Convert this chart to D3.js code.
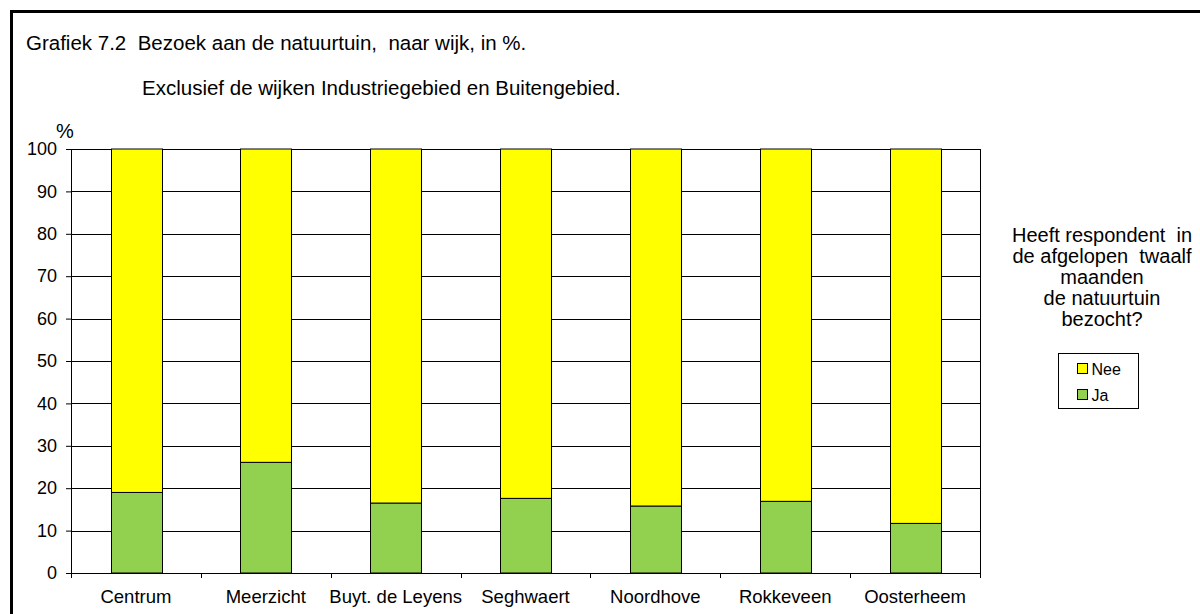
<!DOCTYPE html>
<html>
<head>
<meta charset="utf-8">
<style>
body { margin: 0; background: #fff; }
svg text { font-family: Arial, "Liberation Sans", sans-serif; fill: #000; white-space: pre; }
.axis .domain { stroke: #000; }
.axis line { stroke: #000; }
</style>
</head>
<body>
<svg id="chart" width="1200" height="614"></svg>
<script src="https://d3js.org/d3.v7.min.js"></script>
<script>

var wijken = ["Centrum", "Meerzicht", "Buyt. de Leyens", "Seghwaert", "Noordhove", "Rokkeveen", "Oosterheem"];
var ja = [19, 26.1, 16.5, 17.6, 15.8, 16.9, 11.7];
var nee = [81, 73.9, 83.5, 82.4, 84.2, 83.1, 88.3];
var yTicks = [0, 10, 20, 30, 40, 50, 60, 70, 80, 90, 100];
var series = [{key: "Ja", values: ja, color: "#92d050"}, {key: "Nee", values: nee, color: "#ffff00"}];

var svg = d3.select("#chart"),
    margin = {top: 149, left: 71, right: 220, bottom: 41},
    width = 1200 - margin.left - margin.right,
    height = 614 - margin.top - margin.bottom;

// outer frame
svg.append("path")
    .attr("d", "M11.5,1200 V11.5 H1200")
    .attr("fill", "none").attr("stroke", "#000").attr("stroke-width", 3);

svg.append("text").attr("x", 26).attr("y", 50).style("font-size", "20.5px")
    .text("Grafiek 7.2  Bezoek aan de natuurtuin,  naar wijk, in %.");
svg.append("text").attr("x", 142).attr("y", 95).style("font-size", "20.5px")
    .text("Exclusief de wijken Industriegebied en Buitengebied.");
svg.append("text").attr("x", 56).attr("y", 138).style("font-size", "20px").text("%");

var g = svg.append("g").attr("transform", "translate(" + margin.left + "," + margin.top + ")");

var x = d3.scaleBand().domain(wijken).range([0, width]).paddingInner(0.61).paddingOuter(0.305);
var xb = d3.scaleBand().domain(wijken).range([0, width]);
var y = d3.scaleLinear().domain([0, 100]).range([height, 0]);

// gridlines
g.append("g").selectAll("line").data(yTicks.slice(1)).enter().append("line")
    .attr("x1", 0).attr("x2", width)
    .attr("y1", function(d) { return Math.round(y(d)) + 0.5; })
    .attr("y2", function(d) { return Math.round(y(d)) + 0.5; })
    .attr("stroke", "#000").attr("stroke-width", 1);
g.append("line").attr("x1", width + 0.5).attr("x2", width + 0.5).attr("y1", 0).attr("y2", height)
    .attr("stroke", "#000");

// stacked bars
var stacked = wijken.map(function(w, i) {
  var base = 0;
  return series.map(function(s) {
    var d = {wijk: w, y0: base, y1: base + s.values[i], color: s.color};
    base += s.values[i];
    return d;
  });
});

g.append("g").selectAll("g").data(stacked).enter().append("g")
  .selectAll("rect").data(function(d) { return d; }).enter().append("rect")
    .attr("x", function(d) { return Math.round(x(d.wijk)) + 0.5; })
    .attr("width", Math.round(x.bandwidth()))
    .attr("y", function(d) { return y(d.y1); })
    .attr("height", function(d) { return y(d.y0) - y(d.y1); })
    .attr("fill", function(d) { return d.color; })
    .attr("stroke", "#000").attr("stroke-width", 1);

// axes
g.append("g").attr("class", "axis")
    .call(d3.axisLeft(y).tickValues(yTicks).tickSize(5).tickPadding(9))
    .selectAll("text").style("font-size", "18px");

var xAxis = g.append("g").attr("class", "axis")
    .attr("transform", "translate(0," + height + ")")
    .call(d3.axisBottom(xb).tickSize(0).tickPadding(17));
xAxis.selectAll("text").style("font-size", "18.5px");
xAxis.selectAll(".tick-sep").data(d3.range(wijken.length + 1)).enter().append("line")
    .attr("x1", function(i) { return Math.round(i * xb.bandwidth()) + 0.5; })
    .attr("x2", function(i) { return Math.round(i * xb.bandwidth()) + 0.5; })
    .attr("y1", 0).attr("y2", 5).attr("stroke", "#000");

// legend
var legendTitle = ["Heeft respondent  in", "de afgelopen  twaalf", "maanden", "de natuurtuin", "bezocht?"];
svg.append("g").selectAll("text").data(legendTitle).enter().append("text")
    .attr("x", 1102).attr("y", function(d, i) { return 242 + i * 21; })
    .attr("text-anchor", "middle").style("font-size", "20px")
    .text(function(d) { return d; });

var lg = svg.append("g").attr("transform", "translate(1058.5,353.5)");
lg.append("rect").attr("width", 80).attr("height", 55).attr("fill", "#fff").attr("stroke", "#000");
var items = series.slice().reverse();
items.forEach(function(s, i) {
  lg.append("rect").attr("x", 19).attr("y", 10 + i * 26).attr("width", 10).attr("height", 10)
      .attr("fill", s.color).attr("stroke", "#000");
  lg.append("text").attr("x", 33).attr("y", 21 + i * 26).style("font-size", "16px").text(s.key);
});

</script>
</body>
</html>
